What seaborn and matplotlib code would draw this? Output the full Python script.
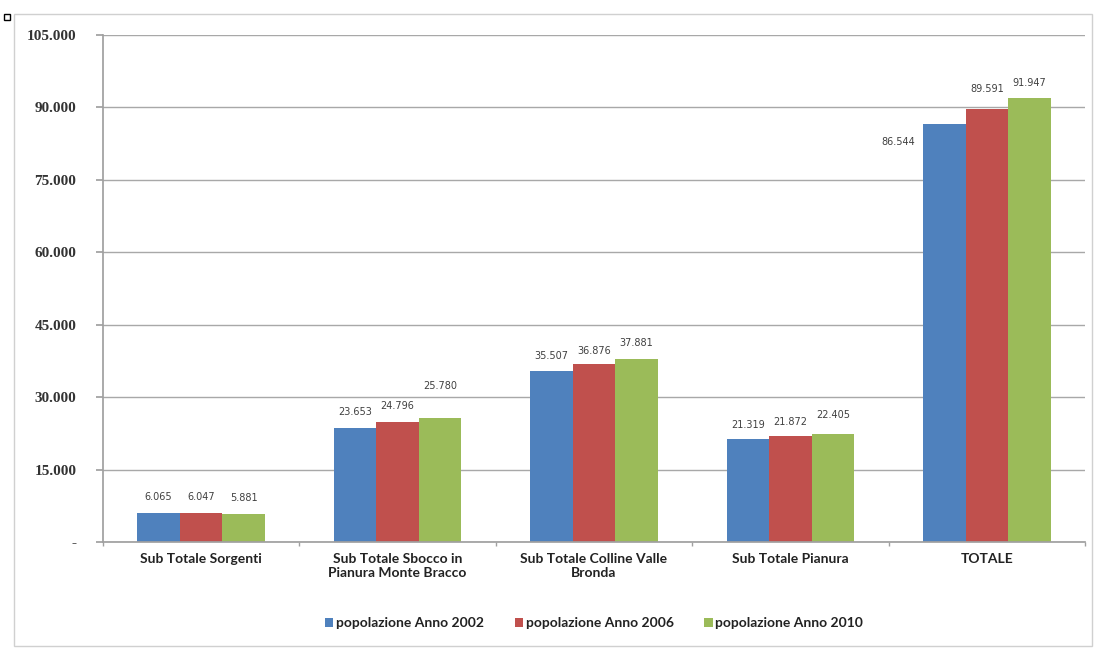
import matplotlib
matplotlib.use("Agg")
import matplotlib.pyplot as plt
import seaborn as sns
import pandas as pd
from matplotlib.patches import Rectangle

categories = ["Sub Totale Sorgenti", "Sub Totale Sbocco in\nPianura Monte Bracco",
              "Sub Totale Colline Valle\nBronda", "Sub Totale Pianura", "TOTALE"]
series = ["popolazione Anno 2002", "popolazione Anno 2006", "popolazione Anno 2010"]
v2002 = [6065, 23653, 35507, 21319, 86544]
v2006 = [6047, 24796, 36876, 21872, 89591]
v2010 = [5881, 25780, 37881, 22405, 91947]
yticks = [0, 15000, 30000, 45000, 60000, 75000, 90000, 105000]
colors = ["#4F81BD", "#C0504D", "#9BBB59"]

# label lift above bar top, in pixels (per series, per category)
lift = [[16, 16, 15, 14, 0],
        [16, 16, 13, 14, 20],
        [16, 32, 16, 19, 15]]

rows = []
for s, vals in zip(series, [v2002, v2006, v2010]):
    for c, v in zip(categories, vals):
        rows.append({"cat": c, "val": v, "serie": s})
df = pd.DataFrame(rows)

sns.set_theme(style="white")
plt.rcParams['font.family'] = ['Lato', 'DejaVu Sans']

fig = plt.figure(figsize=(10.94, 6.48), dpi=100)
ax = fig.add_axes([0.094, 0.1636, 0.898, 0.7824])

sns.barplot(data=df, x="cat", y="val", hue="serie", palette=colors,
            width=0.65, gap=0, saturation=1, ax=ax, edgecolor="none")

def fmt(v):
    return f"{int(round(v)):,}".replace(",", ".")

for ci, cont in enumerate(ax.containers):
    for bi, bar in enumerate(cont):
        h = bar.get_height()
        x = bar.get_x() + bar.get_width() / 2
        if ci == 0 and bi == 4:
            ax.annotate(fmt(h), (bar.get_x(), h), xytext=(-6, -13),
                        textcoords="offset points", ha="right", va="center",
                        fontsize=7, color="#404040", family="DejaVu Sans")
        else:
            ax.annotate(fmt(h), (x, h), xytext=(0, lift[ci][bi] * 0.72),
                        textcoords="offset points", ha="center", va="center",
                        fontsize=7, color="#404040", family="DejaVu Sans")

ax.set_ylim(0, 105000)
ax.set_yticks(yticks)
ax.set_yticklabels(["-" if t == 0 else fmt(t) for t in yticks],
                   family="Liberation Serif", fontweight="bold", fontsize=11, color="#333333")
ax.set_xlim(-0.5, 4.5)
for lab in ax.get_xticklabels():
    lab.set_fontweight("bold")
    lab.set_fontsize(10)
    lab.set_color("#222222")
ax.set_xlabel("")
ax.set_ylabel("")
ax.yaxis.grid(True, color="#A8A8A8", linewidth=1)
ax.set_axisbelow(True)
for sp in ["top", "right"]:
    ax.spines[sp].set_visible(False)
ax.spines["left"].set_color("#A0A0A0")
ax.spines["bottom"].set_color("#A0A0A0")
ax.tick_params(axis="y", length=5, color="#A0A0A0", direction="out", left=True, pad=14)
ax.set_xticks([-0.5, 0.5, 1.5, 2.5, 3.5, 4.5], minor=True)
ax.tick_params(axis="x", which="major", length=0, pad=8)
ax.tick_params(axis="x", which="minor", length=3, color="#A0A0A0", bottom=True)

leg = ax.legend(loc="center", bbox_to_anchor=(0.5, -0.16), ncol=3, frameon=False,
                handlelength=0.6, handleheight=0.6, handletextpad=0.2, columnspacing=2.2,
                prop={"weight": "bold", "size": 10})
for t in leg.get_texts():
    t.set_color("#222222")

fig.patches.append(Rectangle((14/1094, 0.003), 1 - 16/1094, 1 - 16/648, transform=fig.transFigure,
                             fill=False, edgecolor="#D0D0D0", linewidth=1))
fig.patches.append(Rectangle((4/1094, 1 - 20/648), 6/1094, 6/648, transform=fig.transFigure,
                             fill=True, facecolor="white", edgecolor="black", linewidth=1))

fig.savefig("out.png", dpi=100)
